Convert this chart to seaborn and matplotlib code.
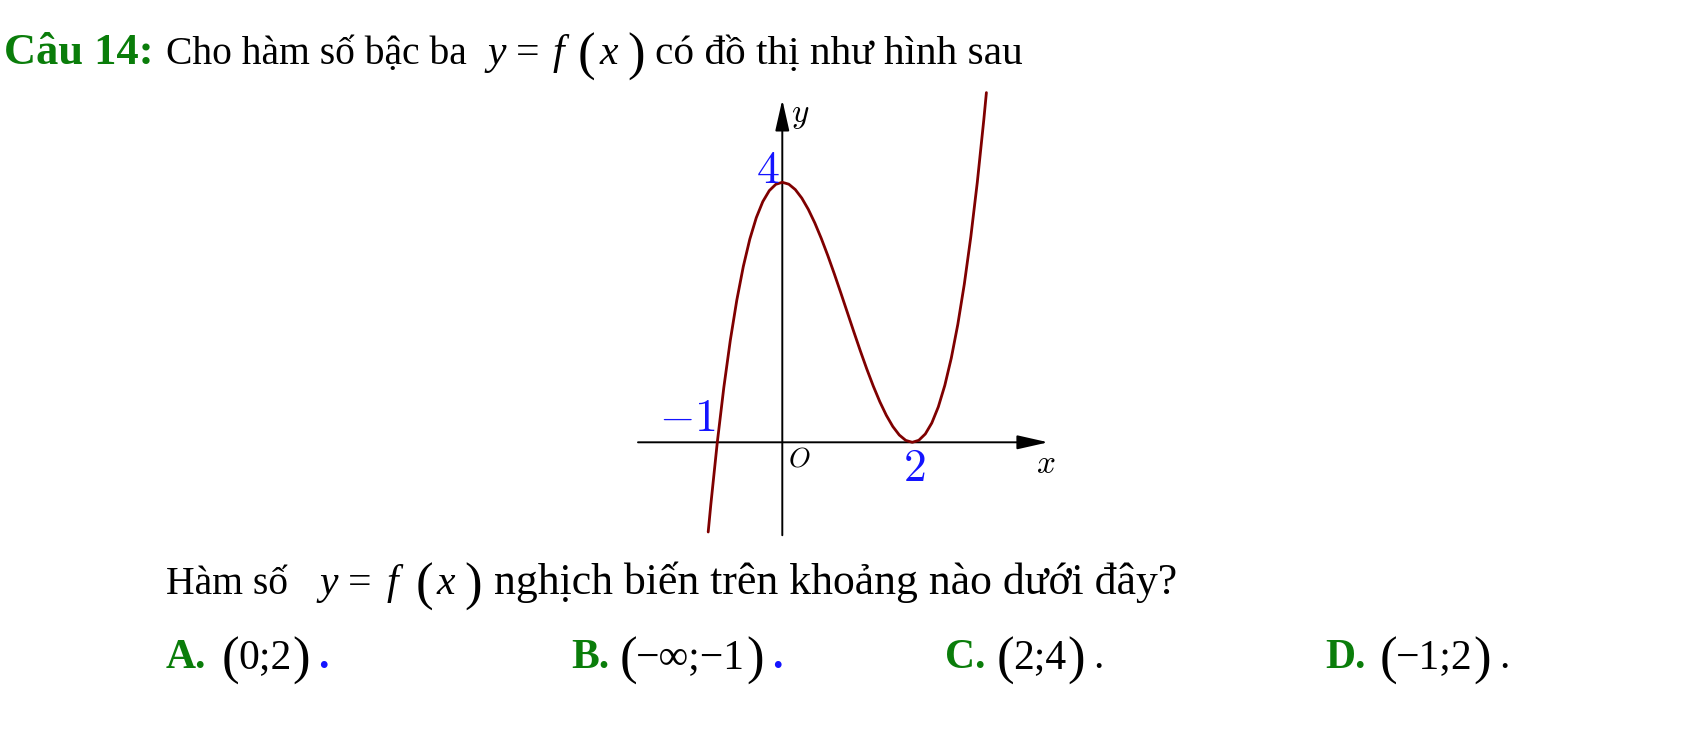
import numpy as np
import pandas as pd
import matplotlib
matplotlib.use("Agg")
import matplotlib.pyplot as plt
import seaborn as sns
from matplotlib.patches import FancyArrowPatch

# ---------------- data ----------------
curve_x = [-1.14, -1.1, -1.0, -0.9, -0.8, -0.7, -0.6, -0.5, -0.4, -0.3, -0.2, -0.1,
           0.0, 0.1, 0.2, 0.3, 0.4, 0.5, 0.6, 0.7, 0.8, 0.9, 1.0, 1.1, 1.2, 1.3,
           1.4, 1.5, 1.6, 1.7, 1.8, 1.9, 2.0, 2.1, 2.2, 2.3, 2.4, 2.5, 2.6, 2.7,
           2.8, 2.9, 3.0, 3.1, 3.14]
curve_y = [-1.380, -0.961, 0.0, 0.841, 1.568, 2.187, 2.704, 3.125, 3.456, 3.703,
           3.872, 3.969, 4.0, 3.971, 3.888, 3.757, 3.584, 3.375, 3.136, 2.873,
           2.592, 2.299, 2.0, 1.701, 1.408, 1.127, 0.864, 0.625, 0.416, 0.243,
           0.112, 0.029, 0.0, 0.031, 0.128, 0.297, 0.544, 0.875, 1.296, 1.813,
           2.432, 3.159, 4.0, 4.961, 5.380]
axis_x_range = [-2.22, 4.09]
axis_y_range = [-1.43, 5.27]
tick_labels = ["4", "2", "1"]
question_title = "Câu 14:"
line1_parts = ["Cho hàm số bậc ba", "có đồ thị như hình sau"]
line2_parts = ["Hàm số", "nghịch biến trên khoảng nào dưới đây?"]
option_letters = ["A.", "B.", "C.", "D."]
option_values = ["0;2", "\u2212\u221e;\u22121", "2;4", "\u22121;2"]

# ---------------- style ----------------
sns.set_theme(style="white")
plt.rcParams["font.family"] = ["Liberation Serif", "DejaVu Serif"]

GREEN = "#0a7d0a"
BLUE = "#1414ff"
CURVE = "#7f0000"

W, H = 1700, 729
fig = plt.figure(figsize=(W / 100, H / 100), dpi=100)
fig.patch.set_facecolor("white")
renderer = fig.canvas.get_renderer()

def fx(px):
    return px / W

def fy(py):
    return 1 - py / H

# ---------------- graph axes ----------------
ox, oy, u = 782.3, 442.3, 65.0
xlim = (-2.5, 4.5)
ylim = (-1.6, 5.6)
ax = fig.add_axes([fx(ox + xlim[0] * u), fy(oy - ylim[0] * u),
                   (xlim[1] - xlim[0]) * u / W, (ylim[1] - ylim[0]) * u / H])
ax.set_xlim(*xlim)
ax.set_ylim(*ylim)
ax.axis("off")

df = pd.DataFrame({"x": curve_x, "y": curve_y})
sns.lineplot(data=df, x="x", y="y", ax=ax, color=CURVE, lw=2.0, sort=False,
             estimator=None, clip_on=False, zorder=3)

arrow_style = "-|>,head_length=19,head_width=4.3"
ax.add_patch(FancyArrowPatch((axis_x_range[0], 0), (axis_x_range[1], 0),
                             arrowstyle=arrow_style, mutation_scale=1,
                             color="black", lw=1.4, shrinkA=0, shrinkB=0, zorder=2))
ax.add_patch(FancyArrowPatch((0, axis_y_range[0]), (0, axis_y_range[1]),
                             arrowstyle=arrow_style, mutation_scale=1,
                             color="black", lw=1.4, shrinkA=0, shrinkB=0, zorder=2))

def dpx(px, py):
    return ((px - ox) / u, (oy - py) / u)

lab_kw = dict(ha="center", va="center", math_fontfamily="cm")
ax.text(*dpx(768, 172), r"$\mathrm{%s}$" % tick_labels[0], color=BLUE, fontsize=33, **lab_kw)
ax.text(*dpx(914, 470), r"$\mathrm{%s}$" % tick_labels[1], color=BLUE, fontsize=33, **lab_kw)
ax.text(*dpx(687, 420), r"$-\mathrm{%s}$" % tick_labels[2], color=BLUE, fontsize=33, **lab_kw)
ax.text(*dpx(799, 460), r"$O$", color="black", fontsize=20, **lab_kw)
ax.text(*dpx(1046, 465), r"$x$", color="black", fontsize=24, **lab_kw)
ax.text(*dpx(800, 116), r"$y$", color="black", fontsize=24, **lab_kw)

# ---------------- text ----------------
FS = 30

def t(px, py, s, size=FS, color="black", weight="normal", style="normal"):
    txt = fig.text(fx(px), fy(py), s, fontsize=size, color=color, weight=weight,
                   style=style, ha="left", va="baseline")
    return txt

def right_px(txt):
    return txt.get_window_extent(renderer).x1

def math_yfx(x_y, x_eq, x_f, x_lp, x_x, x_rp, base):
    t(x_y, base, "y", style="italic")
    t(x_eq, base, "=")
    t(x_f, base, "f", style="italic")
    t(x_lp, base + 6, "(", size=38)
    t(x_x, base, "x", style="italic")
    t(x_rp, base + 6, ")", size=38)

# line 1
b1 = 64
t(4, b1, question_title, color=GREEN, weight="bold", size=32)
t(166, b1, line1_parts[0], size=28.5)
math_yfx(487, 516, 553, 578, 600, 627, b1)
t(655, b1, line1_parts[1], size=29.7)

# line 2
b2 = 594
t(166, b2, line2_parts[0], size=28.5)
math_yfx(319, 348, 387, 416, 437, 464, b2)
t(494, b2, line2_parts[1], size=31.5)

# line 3 options
b3 = 668
opt_x = [166, 571, 945, 1325]
paren_l = [222, 620, 997, 1380]
dot_col = [BLUE, BLUE, "black", "black"]
for i in range(4):
    t(opt_x[i], b3, option_letters[i], color=GREEN, weight="bold", size=30)
    t(paren_l[i], b3 + 6, "(", size=38)
    c = t(paren_l[i] + 16, b3, option_values[i])
    rp = t(right_px(c) + 1, b3 + 6, ")", size=38)
    t(right_px(rp) + 8, b3, ".", color=dot_col[i], weight="bold" if i < 2 else "normal")

fig.savefig("out.png", dpi=100, facecolor="white")
